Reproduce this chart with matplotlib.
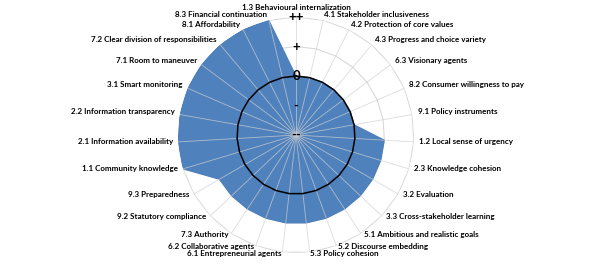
import numpy as np
import matplotlib.pyplot as plt

# Categories clockwise from the top
categories = [
    '1.3 Behavioural internalization', '4.1 Stakeholder inclusiveness',
    '4.2 Protection of core values', '4.3 Progress and choice variety',
    '6.3 Visionary agents', '8.2 Consumer willingness to pay',
    '9.1 Policy instruments', '1.2 Local sense of urgency',
    '2.3 Knowledge cohesion', '3.2 Evaluation',
    '3.3 Cross-stakeholder learning', '5.1 Ambitious and realistic goals',
    '5.2 Discourse embedding', '5.3 Policy cohesion',
    '6.1 Entrepreneurial agents', '6.2 Collaborative agents',
    '7.3 Authority', '9.2 Statutory compliance', '9.3 Preparedness',
    '1.1 Community knowledge', '2.1 Information availability',
    '2.2 Information transparency', '3.1 Smart monitoring',
    '7.1 Room to maneuver', '7.2 Clear division of responsibilities',
    '8.1 Affordability', '8.3 Financial continuation',
]
scores = [2, 2, 2, 2, 2, 2, 2, 3, 3, 3, 3, 3, 3, 3, 3, 3, 3, 3, 3,
          4, 4, 4, 4, 4, 4, 4, 4]
baseline = [2] * len(categories)
levels = [0, 1, 2, 3, 4]
level_labels = ['--', '-', '0', '+', '++']

n = len(categories)
angles = np.linspace(0, 2 * np.pi, n, endpoint=False)
ang_c = np.append(angles, angles[0])

fig = plt.figure(figsize=(5.9, 2.69), dpi=100)
ax = fig.add_axes([0.3017, 0.0595, 0.4, 0.877], polar=True)
ax.set_theta_zero_location('N')
ax.set_theta_direction(-1)
ax.set_ylim(0, 4)
ax.grid(False)
ax.set_xticks([])
ax.set_yticks([])
ax.spines['polar'].set_visible(False)

# rings (polygons) behind the fill
for lv in levels[1:]:
    ax.plot(ang_c, [lv] * (n + 1), color='#D9D9D9', lw=0.8, zorder=1)

ax.fill(ang_c, scores + scores[:1], facecolor='#4F81BD',
        edgecolor='#4A7EBB', lw=0.8, zorder=2)

# spokes on top
for a in angles:
    ax.plot([a, a], [0, 4], color='#D0D0D0', lw=0.6, alpha=0.75, zorder=3)

ax.plot(ang_c, baseline + baseline[:1], color='black', lw=1.1, zorder=4)

for lv, lab in zip(levels, level_labels):
    ax.text(0, lv, lab, ha='center', va='center', fontsize=9.5,
            fontweight='bold', family='Lato', zorder=5)

for a, lab in zip(angles, categories):
    s, c = np.sin(a), np.cos(a)
    if abs(s) < 0.01:
        ha = 'center'
        dy = 10
    elif s > 0:
        ha = 'left'
    else:
        ha = 'right'
    if ha != 'center':
        dy = 2 + 4 * c if c > 0 else 1 + 2 * c
    ax.annotate(lab, (a, 4), xytext=(5.5 * s * 0.72, dy * 0.72),
                textcoords='offset points', ha=ha, va='center',
                fontsize=5.8, fontweight='bold', family='Lato',
                annotation_clip=False)

fig.savefig('out.png', dpi=100)
